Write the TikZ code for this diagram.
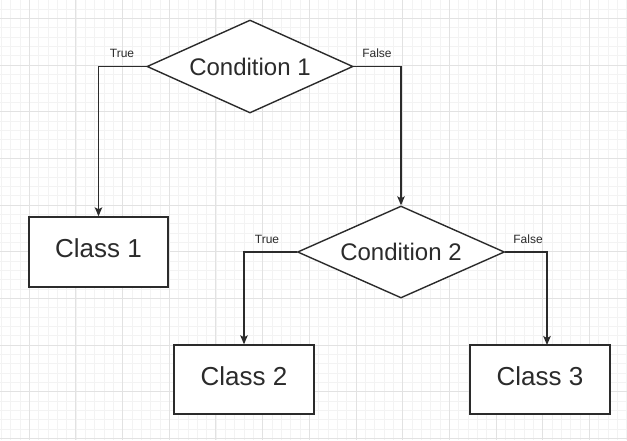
\documentclass[tikz,border=0pt]{standalone}
\usepackage{fontspec}
\setmainfont{Liberation Sans}
\usetikzlibrary{shapes.geometric,arrows.meta}
\definecolor{gridminor}{HTML}{F3F3F3}
\definecolor{gridmajor}{HTML}{E2E2E2}
\definecolor{ink}{HTML}{2B2B2B}
\begin{document}
\begin{tikzpicture}[x=1pt,y=-1pt,
  cond/.style={diamond, draw=ink, line width=1.4pt, fill=white, inner sep=0pt, aspect=2.2,
    minimum width=206pt, minimum height=93pt, font=\fontsize{24}{28}\selectfont, text=ink},
  classbox/.style={rectangle, draw=ink, line width=1.4pt, fill=white, inner sep=0pt,
    minimum width=140pt, minimum height=70pt, font=\fontsize{26}{30}\selectfont, text=ink,
    text height=19pt, text depth=8pt},
  conn/.style={draw=ink, line width=1.4pt, -{Stealth[length=9pt,width=7.5pt,inset=2pt]}},
  lbl/.style={font=\fontsize{12}{14}\selectfont, text=ink, inner sep=0pt}]
\fill[white] (0,0) rectangle (627,440);
\useasboundingbox (0,0) rectangle (627,440);
% grid
\foreach \i in {-3,...,64} {
  \draw[gridminor, line width=0.8pt] ({29.33+9.333*\i},0) -- ({29.33+9.333*\i},440);
}
\foreach \i in {-1,...,45} {
  \draw[gridminor, line width=0.8pt] (0,{18.33+9.333*\i}) -- (627,{18.33+9.333*\i});
}
\foreach \i in {0,...,12} {
  \draw[gridmajor, line width=1pt] ({29.33+46.667*\i},0) -- ({29.33+46.667*\i},440);
}
\foreach \i in {0,...,9} {
  \draw[gridmajor, line width=1pt] (0,{18.33+46.667*\i}) -- (627,{18.33+46.667*\i});
}
% nodes
\node[cond] (c1) at (250,66.5) {Condition 1};
\node[cond, minimum width=207pt, minimum height=92pt] (c2) at (401,252) {Condition 2};
\node[classbox, minimum width=139pt] (k1) at (98.5,252) {Class 1};
\node[classbox, minimum height=69pt] (k2) at (244,379.5) {Class 2};
\node[classbox, minimum height=69pt] (k3) at (540,379.5) {Class 3};
\coordinate (k3in) at (547,345);
% connectors
\draw[conn] (c1.west) -| (k1.north);
\draw[conn] (c1.east) -| (c2.north);
\draw[conn] (c2.west) -| (k2.north);
\draw[conn] (c2.east) -| (k3in);
% labels
\node[lbl] (t1) at (122,53) {True};
\node[lbl] (f1) at (377,53) {False};
\node[lbl] (t2) at (267,239) {True};
\node[lbl] (f2) at (528,239) {False};
\end{tikzpicture}
\end{document}
